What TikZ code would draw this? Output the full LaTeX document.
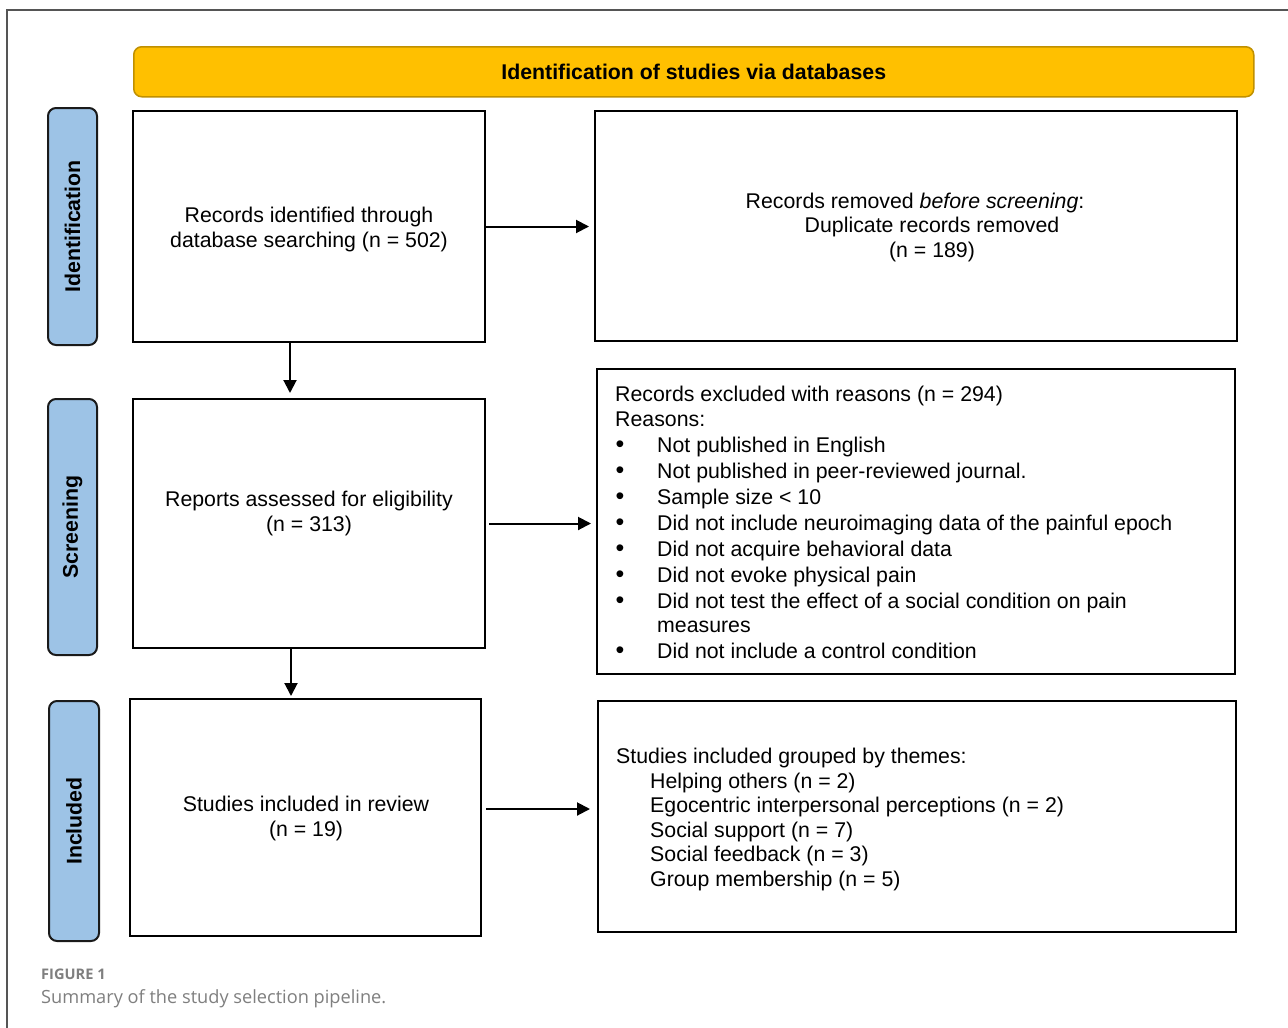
\documentclass[tikz,border=0pt]{standalone}
\usepackage{fontspec}
\setmainfont{Liberation Sans}
\newfontfamily\capfont{Open Sans}
\usetikzlibrary{arrows.meta,calc}
\definecolor{bannerfill}{HTML}{FFC000}
\definecolor{bannerdraw}{HTML}{C09000}
\definecolor{sidefill}{HTML}{9DC3E6}
\definecolor{sidedraw}{HTML}{1A1A1A}
\definecolor{capgray}{HTML}{7F7F7F}
\definecolor{framegray}{HTML}{555555}
\begin{document}
\begin{tikzpicture}[x=1pt,y=-1pt,
  box/.style={draw=black, line width=2pt, inner sep=0pt, anchor=north west},
  sidebox/.style={draw=sidedraw, fill=sidefill, line width=2pt, rounded corners=8pt, inner sep=0pt, anchor=north west},
  bannerbox/.style={draw=bannerdraw, fill=bannerfill, line width=1.5pt, rounded corners=8pt, inner sep=0pt, anchor=north west},
  txt/.style={font=\fontsize{21.3}{25}\selectfont, align=center, inner sep=0pt},
  btxt/.style={font=\bfseries\fontsize{21.3}{25}\selectfont, inner sep=0pt},
  ltxt/.style={font=\fontsize{21.3}{25}\selectfont, inner sep=0pt, anchor=base west},
  bul/.style={font=\fontsize{25}{25}\selectfont, inner sep=0pt, anchor=base},
  arr/.style={line width=2pt, -{Triangle[length=13pt,width=13pt]}},
]
\useasboundingbox (0,0) rectangle (1288,1028);
\fill[white] (0,0) rectangle (1288,1028);
% page frame
\draw[framegray, line width=1.2pt] (1288,10) -- (7,10) -- (7,1028);

% banner
\node[bannerbox, minimum width=1120, minimum height=50] (T) at (133,46) {};
\node[btxt] (Tt) at (T.center) {Identification of studies via databases};

% side labels
\node[sidebox, minimum width=49, minimum height=237] (L1) at (47,107) {};
\node[btxt, rotate=90] (L1t) at (L1.center) {Identification};
\node[sidebox, minimum width=49, minimum height=256] (L2) at (47,398) {};
\node[btxt, rotate=90] (L2t) at (L2.center) {Screening};
\node[sidebox, minimum width=50, minimum height=240] (L3) at (48,700) {};
\node[btxt, rotate=90] (L3t) at (L3.center) {Included};

% boxes
\node[box, minimum width=352, minimum height=231] (A) at (132,110) {};
\node[box, minimum width=642, minimum height=230] (B) at (594,110) {};
\node[box, minimum width=352, minimum height=249] (C) at (132,398) {};
\node[box, minimum width=638, minimum height=305] (D) at (596,368) {};
\node[box, minimum width=351, minimum height=237] (E) at (129,698) {};
\node[box, minimum width=638, minimum height=231] (F) at (597,700) {};

% box texts
\node[txt] (At) at ([yshift=-3pt]A.center) {Records identified through\\database searching (n = 502)};
\node[txt] (Bt1) at (915,202.5) {Records removed \textit{before screening}:};
\node[txt] (Bt2) at (932,239.5) {Duplicate records removed\\(n = 189)};
\node[txt] (Ct) at ([yshift=10.5pt]C.center) {Reports assessed for eligibility\\(n = 313)};
\node[txt] (Et) at ([xshift=0.5pt,yshift=-1pt]E.center) {Studies included in review\\(n = 19)};

% excluded reasons
\node[ltxt] (D1) at (615,401) {Records excluded with reasons (n = 294)};
\node[ltxt] (D2) at (615,426) {Reasons:};
\foreach \yy/\tt [count=\i] in {452/Not published in English,
  478/Not published in peer-reviewed journal.,
  504/Sample size < 10,
  530/Did not include neuroimaging data of the painful epoch,
  556/Did not acquire behavioral data,
  582/Did not evoke physical pain,
  608/Did not test the effect of a social condition on pain,
  658/Did not include a control condition}{
  \node[bul] (Db\i) at (620,\yy) {•};
  \node[ltxt] (Dr\i) at (657,\yy) {\tt};
}
\node[ltxt] (Dm) at (657,632) {measures};

% themes
\node[ltxt] (F0) at (616,763) {Studies included grouped by themes:};
\node[ltxt] (F1) at (650,788) {Helping others (n = 2)};
\node[ltxt] (F2) at (650,812) {Egocentric interpersonal perceptions (n = 2)};
\node[ltxt] (F3) at (650,837) {Social support (n = 7)};
\node[ltxt] (F4) at (650,861) {Social feedback (n = 3)};
\node[ltxt] (F5) at (650,886) {Group membership (n = 5)};

% connectors
\draw[arr, shorten >=5pt] (A.east) -- (A.east -| B.west);
\draw[arr, shorten >=5pt] ([xshift=-19pt]A.south) -- ([xshift=-19pt]A.south |- C.north);
\draw[arr, shorten <=3pt, shorten >=5pt] (C.east) -- (C.east -| D.west);
\draw[arr, shorten >=2pt] ([xshift=-18pt]C.south) -- ([xshift=-18pt]C.south |- E.north);
\draw[arr, shorten <=4pt, shorten >=7pt] ([yshift=8.5pt]E.east) -- ([yshift=8.5pt]E.east -| F.west);

% caption
\node[anchor=base west, inner sep=0pt, text=capgray, font=\capfont\bfseries\fontsize{14.6}{17}\selectfont] (cap1) at (41,979) {FIGURE 1};
\node[anchor=base west, inner sep=0pt, text=capgray, font=\capfont\fontsize{18.2}{21}\selectfont] (cap2) at (41,1003) {Summary of the study selection pipeline.};
\end{tikzpicture}
\end{document}
